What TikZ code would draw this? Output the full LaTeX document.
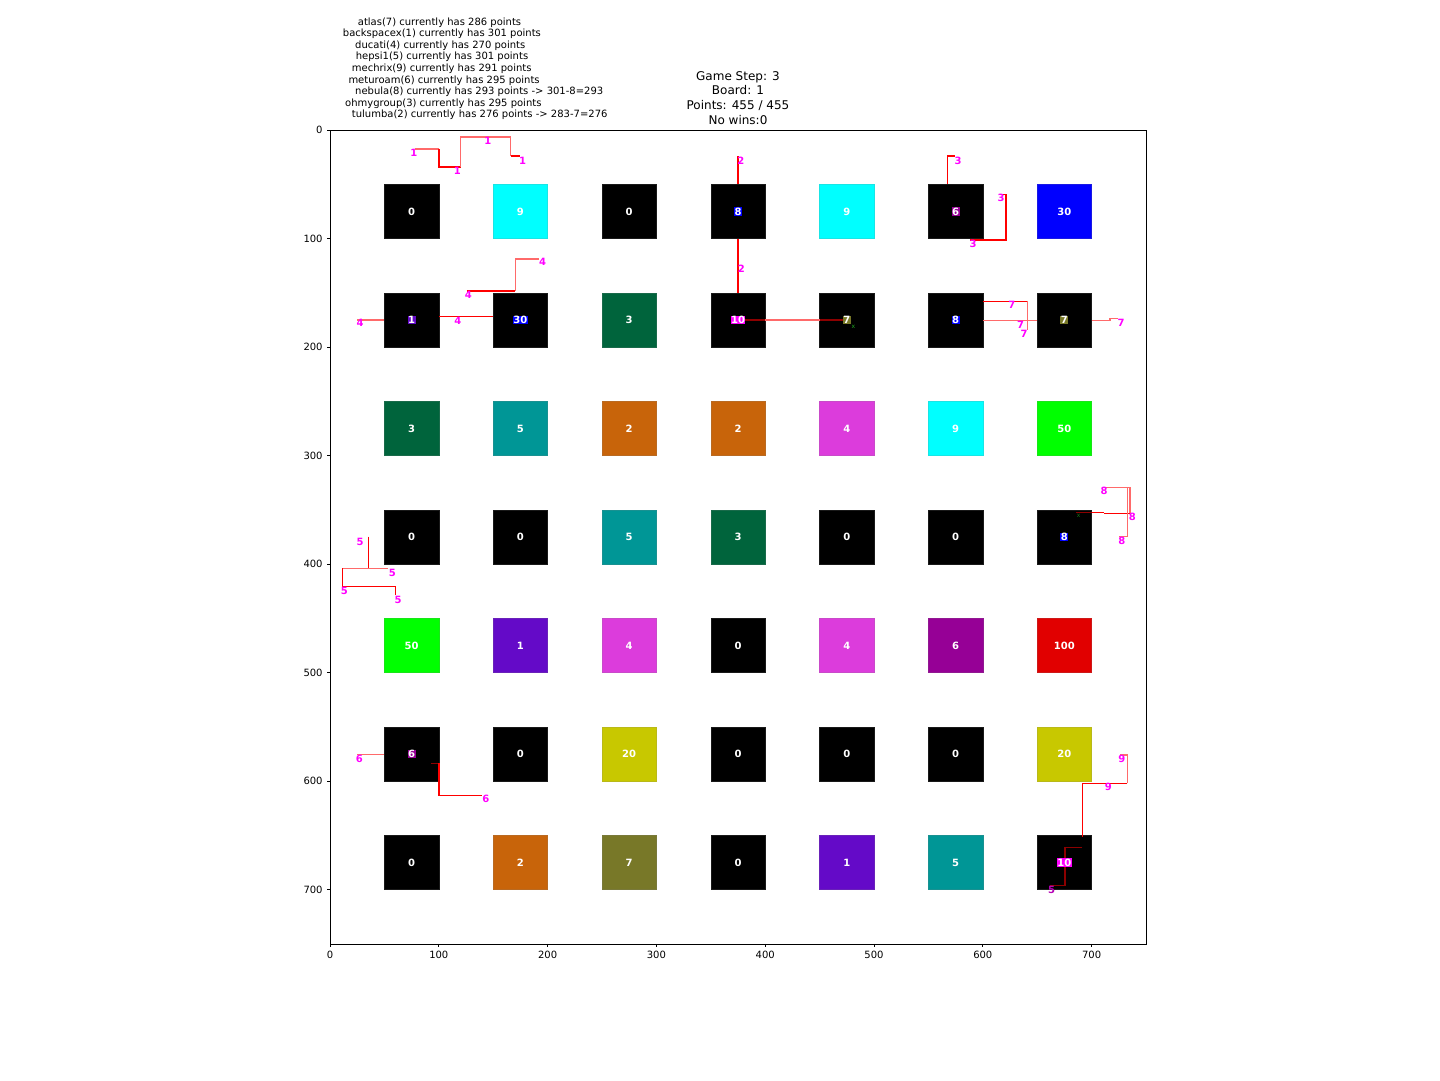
\documentclass[tikz,border=0pt]{standalone}
\usepackage{fontspec}
\setmainfont{DejaVu Sans}
\usetikzlibrary{positioning}
\definecolor{tilecyan}{HTML}{00FFFF}
\definecolor{tileblue}{HTML}{0000FF}
\definecolor{tilegreen}{HTML}{00643C}
\definecolor{tileteal}{HTML}{009696}
\definecolor{tileorange}{HTML}{C8640A}
\definecolor{tilepink}{HTML}{DC3CDC}
\definecolor{tilelime}{HTML}{00FF00}
\definecolor{tileviolet}{HTML}{640AC8}
\definecolor{tileplum}{HTML}{960096}
\definecolor{tilered}{HTML}{E10000}
\definecolor{tileyellow}{HTML}{C8C800}
\definecolor{tileolive}{HTML}{787828}
\definecolor{agentmag}{HTML}{FF00FF}
\definecolor{markgreen}{HTML}{22AA22}
\definecolor{trailred}{HTML}{FF0000}
\definecolor{trailpink}{HTML}{FF6A6A}

\begin{document}
\begin{tikzpicture}[
  x=1pt, y=-1pt,
  tile/.style={draw=#1!80!gray, fill=#1, line width=0.6pt, minimum width=54.4pt, minimum height=54.27pt, inner sep=0pt, outer sep=0pt},
  tilenum/.style={fill=#1, text=white, inner sep=0.5pt, font=\bfseries\fontsize{10}{10}\selectfont},
  agentlab/.style={text=agentmag, inner sep=0pt, font=\bfseries\fontsize{10}{10}\selectfont},
  trail/.style={draw=trailred, line width=1.4pt},
  trailfade/.style={draw=trailpink, line width=1.4pt},
  trailin/.style={draw=trailred!55!black, line width=1.4pt},
  info/.style={inner sep=0pt, font=\fontsize{10}{12}\selectfont},
  head/.style={inner sep=0pt, anchor=base, font=\fontsize{12}{14}\selectfont},
  tick/.style={line width=0.8pt}
]
\useasboundingbox (0,0) rectangle (1440,1080);
\fill[white] (0,0) rectangle (1440,1080);

% scores of the players
\node[info, anchor=base west] (s1) at (357.7,25) {atlas(7) currently has 286 points};
\node[info, anchor=base west] (s2) at (342.7,36.6) {backspacex(1) currently has 301 points};
\node[info, anchor=base west] (s3) at (355,48.2) {ducati(4) currently has 270 points};
\node[info, anchor=base west] (s4) at (355.7,59.8) {hepsi1(5) currently has 301 points};
\node[info, anchor=base west] (s5) at (351.7,71.4) {mechrix(9) currently has 291 points};
\node[info, anchor=base west] (s6) at (348.3,83) {meturoam(6) currently has 295 points};
\node[info, anchor=base west] (s7) at (355,94.6) {nebula(8) currently has 293 points -> 301-8=293};
\node[info, anchor=base west] (s8) at (345,106.2) {ohmygroup(3) currently has 295 points};
\node[info, anchor=base west] (s9) at (351.7,117.8) {tulumba(2) currently has 276 points -> 283-7=276};

% title
\node[head] (t1) at (738,80) {Game Step: 3};
\node[head] (t2) at (738,94.8) {Board: 1};
\node[head] (t3) at (738,109.6) {Points: 455 / 455};
\node[head] (t4) at (738,124.4) {No wins:0};

\begin{scope}[shift={(330,130)}, x=1.088pt, y=-1.0853pt]
  % board tiles
  \foreach \c/\r/\col in {
    1/1/black, 2/1/tilecyan, 3/1/black, 4/1/black, 5/1/tilecyan, 6/1/black, 7/1/tileblue,
    1/2/black, 2/2/black, 3/2/tilegreen, 4/2/black, 5/2/black, 6/2/black, 7/2/black,
    1/3/tilegreen, 2/3/tileteal, 3/3/tileorange, 4/3/tileorange, 5/3/tilepink, 6/3/tilecyan, 7/3/tilelime,
    1/4/black, 2/4/black, 3/4/tileteal, 4/4/tilegreen, 5/4/black, 6/4/black, 7/4/black,
    1/5/tilelime, 2/5/tileviolet, 3/5/tilepink, 4/5/black, 5/5/tilepink, 6/5/tileplum, 7/5/tilered,
    1/6/black, 2/6/black, 3/6/tileyellow, 4/6/black, 5/6/black, 6/6/black, 7/6/tileyellow,
    1/7/black, 2/7/tileorange, 3/7/tileolive, 4/7/black, 5/7/tileviolet, 6/7/tileteal, 7/7/black} {
    \node[tile=\col] (sq-\c-\r) at ({100*\c-25},{100*\r-25}) {};
  }

  % trails of the players
  \draw[trailfade] (78,17.5) -- (100,17.5);
  \draw[trail] (100,17.5) -- (100,34) -- (120,34);
  \draw[trailfade] (120,34) -- (120,6.5) -- (166,6.5) -- (166,24);
  \draw[trail] (166,24) -- (175,24);
  \draw[trail] (375,24) -- (375,50);
  \draw[trail] (375,100) -- (375,150);
  \draw[trail] (574.4,24) -- (567.7,24) -- (567.7,50);
  \draw[trail] (589.2,100) -- (589.2,101.4) -- (621.3,101.4) -- (621.3,59.2) -- (615.8,59.2);
  \draw[trailfade] (25.1,175.1) -- (50,175.1);
  \draw[trail] (100.2,171.7) -- (150.1,171.7);
  \draw[trail] (125.6,148.3) -- (170.3,148.3);
  \draw[trailfade] (170.3,148.3) -- (170.3,118.9) -- (192.4,118.9);
  \draw[trail] (35.2,374.7) -- (35.2,403.9);
  \draw[trailfade] (11.3,403.9) -- (53.6,403.9);
  \draw[trail] (11.3,403.9) -- (11.3,420.8) -- (60.4,420.8) -- (60.4,428.5);
  \draw[trailfade] (25.1,575.2) -- (50,575.2);
  \draw[trailin] (92.8,583.5) -- (100.2,583.5);
  \draw[trail] (100.2,583.5) -- (100.2,613) -- (139.4,613);
  \draw[trailin] (373.8,175.1) -- (400,175.1);
  \draw[trailfade] (400,175.1) -- (450,175.1);
  \draw[trailin] (450,175.1) -- (474.9,175.1);
  \draw[trail] (599.9,157.8) -- (641.3,157.8);
  \draw[trailfade] (641.3,157.8) -- (641.3,184.3);
  \draw[trailfade] (599.9,175.7) -- (650.1,175.7);
  \draw[trailfade] (700.1,175.7) -- (716.9,175.7) -- (716.9,173.5) -- (724,173.5);
  \draw[trailin] (685.7,352.3) -- (700,352.3);
  \draw[trail] (700,352.3) -- (711.4,352.3);
  \draw[trail] (711.4,353.2) -- (735.3,353.2);
  \draw[trailfade] (735.3,353.2) -- (735.3,329.2) -- (709.3,329.2);
  \draw[trailfade] (732.8,329.2) -- (732.8,374.7) -- (725.5,374.7);
  \draw[trailfade] (726.1,575.9) -- (732.8,575.9) -- (732.8,602);
  \draw[trail] (732.8,602) -- (691.4,602) -- (691.4,651.1);
  \draw[trailin] (691.4,660.9) -- (675.6,660.9) -- (675.6,696.3) -- (661.8,696.3);

  % numbers on the tiles
  \foreach \c/\r/\v/\bg in {
    1/1/0/none, 2/1/9/none, 3/1/0/none, 4/1/8/tileblue, 5/1/9/none, 6/1/6/tileplum, 7/1/30/none,
    1/2/1/tileviolet, 2/2/30/tileblue, 3/2/3/none, 4/2/10/agentmag, 5/2/7/tileolive, 6/2/8/tileblue, 7/2/7/tileolive,
    1/3/3/none, 2/3/5/none, 3/3/2/none, 4/3/2/none, 5/3/4/none, 6/3/9/none, 7/3/50/none,
    1/4/0/none, 2/4/0/none, 3/4/5/none, 4/4/3/none, 5/4/0/none, 6/4/0/none, 7/4/8/tileblue,
    1/5/50/none, 2/5/1/none, 3/5/4/none, 4/5/0/none, 5/5/4/none, 6/5/6/none, 7/5/100/none,
    1/6/6/tileplum, 2/6/0/none, 3/6/20/none, 4/6/0/none, 5/6/0/none, 6/6/0/none, 7/6/20/none,
    1/7/0/none, 2/7/2/none, 3/7/7/none, 4/7/0/none, 5/7/1/none, 6/7/5/none, 7/7/10/agentmag} {
    \node[tilenum=\bg] (num-\c-\r) at (sq-\c-\r) {\v};
  }

  % player labels
  \foreach \px/\py/\n in {77/21/1, 117/38/1, 145/10/1, 177/28/1,
    377.7/28.6/2, 378/128/2,
    577.2/28.3/3, 616.7/62.9/3, 591/105.3/3,
    27.6/178.1/4, 117.4/175.4/4, 127.1/152/4, 195.5/121.9/4,
    27.6/379.3/5, 57.3/407.9/5, 13.1/424.5/5, 62.5/433.1/5,
    27/579.3/6, 143.2/616.4/6,
    626.6/161.2/7, 634.8/179.7/7, 637.9/188.2/7, 727/178.1/7,
    711.4/332.6/8, 737.4/356.9/8, 727.7/378.7/8,
    727.7/579.6/9, 715.4/605.6/9} {
    \node[agentlab] (p-\px-\py) at (\px,\py) {\n};
  }
  \node[agentlab, text=tileplum!70!agentmag] (p-low) at (663.3,700.3) {5};
  \node[inner sep=0pt, text=markgreen, font=\fontsize{6}{6}\selectfont] (m1) at (481,181.5) {x};
  \node[inner sep=0pt, text=markgreen!70!black, font=\fontsize{6}{6}\selectfont] (m2) at (688,355.4) {x};

  % axes
  \draw[tick] (0,0) rectangle (750,750);
  \foreach \t in {0,100,...,700} {
    \draw[tick] (\t,750) -- ++(0pt,-3.5pt) node[info, anchor=north, yshift=-3.5pt] (xl-\t) {\t};
    \draw[tick] (0,\t) -- ++(-3.5pt,0pt) node[info, anchor=east, xshift=-3.5pt] (yl-\t) {\t};
  }
\end{scope}
\end{tikzpicture}
\end{document}
